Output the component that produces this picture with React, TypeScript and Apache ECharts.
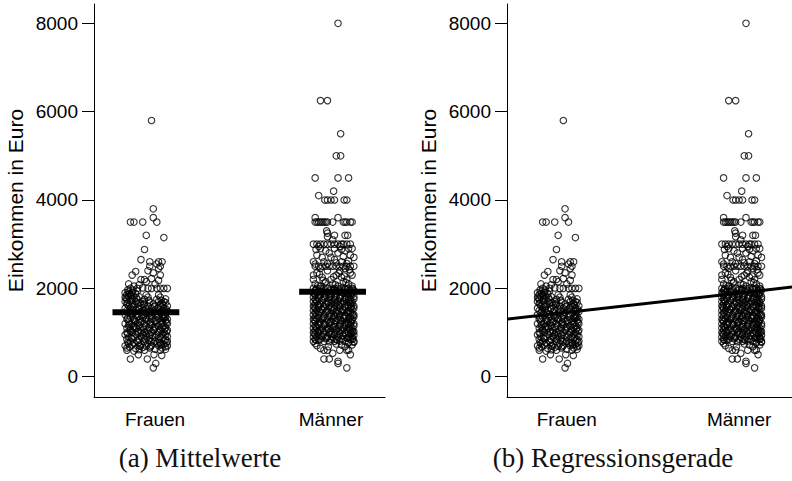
import React, { useEffect, useRef } from "react";
import * as echarts from "echarts";

// ---- data ----
const categories = ["Frauen", "Männer"];
const yTicks = [0, 2000, 4000, 6000, 8000];
const captions = ["(a) Mittelwerte", "(b) Regressionsgerade"];
const groupMeans = [1458, 1924];
const regressionAtGroups = [1455, 1895];

// [jitter offset from category, income in Euro]
const frauen: number[][] = [
  [-0.16,650],[-0.11,640],[-0.07,660],[-0.03,650],[0.00,620],[0.04,650],[0.06,680],
  [-0.17,700],[-0.13,720],[-0.09,700],[-0.05,690],[-0.02,710],[0.02,700],[0.07,700],
  [-0.15,750],[-0.12,760],[-0.08,740],[-0.04,750],[0.01,770],[0.03,750],[0.05,730],
  [-0.14,800],[-0.10,810],[-0.06,800],[-0.02,790],[0.00,800],[0.05,820],[0.07,800],
  [-0.16,850],[-0.13,860],[-0.09,840],[-0.06,850],[-0.03,870],[0.02,850],[0.06,840],
  [-0.15,900],[-0.12,900],[-0.08,920],[-0.05,900],[0.00,890],[0.03,900],[0.07,910],
  [-0.17,950],[-0.11,960],[-0.07,950],[-0.03,940],[0.01,950],[0.04,970],[0.06,950],
  [-0.16,1000],[-0.13,1000],[-0.10,990],[-0.06,1000],[-0.02,1010],[0.02,1000],[0.05,1000],[-0.08,1000],
  [-0.14,1050],[-0.12,1060],[-0.08,1040],[-0.04,1050],[-0.01,1050],[0.03,1070],[0.07,1050],
  [-0.16,1100],[-0.11,1100],[-0.07,1120],[-0.03,1100],[0.00,1090],[0.04,1100],[0.06,1110],[-0.14,1080],
  [-0.15,1150],[-0.12,1140],[-0.09,1160],[-0.05,1150],[-0.02,1170],[0.02,1150],[0.05,1150],
  [-0.17,1200],[-0.13,1200],[-0.10,1210],[-0.06,1200],[-0.03,1190],[0.01,1200],[0.04,1220],[0.07,1200],
  [-0.15,1250],[-0.11,1240],[-0.08,1250],[-0.04,1260],[0.00,1250],[0.03,1250],[0.06,1270],
  [-0.16,1300],[-0.12,1300],[-0.09,1290],[-0.05,1300],[-0.02,1310],[0.02,1300],[0.05,1330],[0.07,1300],
  [-0.14,1350],[-0.10,1360],[-0.07,1340],[-0.03,1350],[0.01,1370],[0.04,1350],[0.06,1350],
  [-0.17,1400],[-0.13,1400],[-0.10,1410],[-0.06,1400],[-0.02,1390],[0.02,1400],[0.05,1420],
  [-0.15,1450],[-0.12,1450],[-0.08,1460],[-0.05,1440],[-0.01,1450],[0.03,1450],[0.07,1470],
  [-0.16,1500],[-0.11,1500],[-0.07,1500],[-0.04,1510],[0.00,1500],[0.04,1500],[0.06,1490],[-0.13,1520],
  [-0.17,1550],[-0.14,1560],[-0.09,1550],[-0.05,1540],[-0.02,1550],[0.02,1570],[0.05,1550],
  [-0.15,1600],[-0.12,1600],[-0.08,1610],[-0.04,1600],[0.00,1600],[0.03,1620],[0.07,1600],
  [-0.16,1650],[-0.13,1640],[-0.10,1650],[-0.06,1660],[-0.01,1650],[0.04,1650],[0.06,1680],
  [-0.17,1700],[-0.14,1720],[-0.11,1700],[-0.07,1700],[-0.03,1690],[0.02,1700],[0.05,1700],
  [-0.16,1750],[-0.13,1760],[-0.10,1740],[-0.06,1750],[0.01,1750],[0.06,1760],
  [-0.17,1800],[-0.15,1820],[-0.12,1800],[-0.09,1810],[-0.04,1800],[0.03,1800],
  [-0.16,1860],[-0.14,1850],[-0.11,1880],[-0.05,1850],[0.02,1850],
  [-0.17,1900],[-0.15,1920],[-0.13,1900],[-0.10,1940],
  [-0.145,675],[-0.085,690],[-0.025,680],[0.035,720],
  [-0.155,780],[-0.095,775],[-0.035,820],[0.025,780],[0.065,770],
  [-0.135,880],[-0.075,875],[-0.015,930],[0.045,880],
  [-0.155,980],[-0.095,1025],[-0.035,980],[0.025,1030],[0.065,1020],
  [-0.125,1125],[-0.065,1080],[-0.005,1130],[0.055,1075],
  [-0.145,1180],[-0.085,1225],[-0.025,1230],[0.035,1180],[0.065,1230],
  [-0.155,1330],[-0.115,1280],[-0.055,1325],[0.005,1280],[0.045,1320],
  [-0.135,1430],[-0.075,1380],[-0.015,1420],[0.055,1380],
  [-0.145,1480],[-0.095,1530],[-0.035,1480],[0.015,1530],[0.065,1520],
  [-0.125,1580],[-0.065,1630],[-0.005,1580],[0.045,1620],
  [-0.155,1680],[-0.085,1680],[-0.035,1730],[0.035,1730],
  [-0.165,1780],[-0.135,1830],[-0.105,1780],[-0.145,1880],[-0.155,1960],[-0.125,1960],
  [-0.14,2000],[-0.10,2000],[-0.07,2010],[-0.04,2000],[-0.02,2000],[0.01,2000],[0.03,2000],[0.05,2000],[0.07,2000],
  [-0.12,2050],[-0.09,2080],[-0.15,2100],[0.00,2100],[-0.05,2150],[-0.08,2200],[-0.06,2200],[-0.02,2220],[0.02,2180],
  [-0.13,2300],[-0.11,2380],[-0.01,2350],[0.03,2300],[-0.04,2400],[0.02,2450],
  [-0.03,2500],[0.03,2500],[0.01,2550],
  [-0.03,2600],[0.02,2600],[0.04,2600],
  [-0.08,2650],[-0.06,2880],[-0.05,3200],[0.05,3150],
  [-0.14,3500],[-0.12,3500],[-0.07,3500],[0.01,3500],[-0.01,3600],[-0.01,3800],[-0.02,5800],
  [-0.14,400],[-0.095,500],[-0.044,400],[-0.006,500],[0.038,480],[0.004,300],[-0.01,200],
  [-0.16,600],[-0.12,580],[-0.06,600],[0.03,600],[0.06,620],[-0.09,610]
];

const maenner: number[][] = [
  [-0.10,800],[-0.07,820],[-0.04,800],[-0.01,790],[0.02,800],[0.05,810],[0.08,800],[0.10,780],[0.13,800],
  [-0.09,850],[-0.06,850],[-0.03,860],[0.00,850],[0.03,840],[0.06,850],[0.09,870],[0.11,850],[0.12,850],
  [-0.10,900],[-0.08,910],[-0.05,900],[-0.02,900],[0.01,890],[0.04,900],[0.07,920],[0.10,900],[0.12,900],
  [-0.09,950],[-0.07,940],[-0.04,950],[0.00,960],[0.02,950],[0.05,950],[0.08,970],[0.11,950],[0.13,940],
  [-0.10,1000],[-0.07,1000],[-0.04,1010],[-0.01,1000],[0.02,1000],[0.05,990],[0.08,1000],[0.10,1000],[0.13,1020],
  [-0.09,1050],[-0.06,1060],[-0.03,1050],[0.00,1040],[0.03,1050],[0.06,1050],[0.09,1070],[0.11,1050],[0.12,1040],
  [-0.10,1100],[-0.08,1100],[-0.05,1090],[-0.02,1100],[0.01,1120],[0.04,1100],[0.07,1100],[0.10,1110],[0.12,1100],
  [-0.09,1150],[-0.07,1160],[-0.04,1150],[0.00,1150],[0.02,1140],[0.05,1150],[0.08,1150],[0.11,1170],[0.13,1150],
  [-0.10,1200],[-0.07,1190],[-0.04,1200],[-0.01,1210],[0.02,1200],[0.05,1200],[0.08,1220],[0.10,1200],[0.13,1200],
  [-0.09,1250],[-0.06,1250],[-0.03,1240],[0.00,1250],[0.03,1260],[0.06,1250],[0.09,1250],[0.11,1240],[0.12,1270],
  [-0.10,1300],[-0.08,1310],[-0.05,1300],[-0.02,1290],[0.01,1300],[0.04,1300],[0.07,1320],[0.10,1300],[0.12,1300],
  [-0.09,1350],[-0.07,1340],[-0.04,1350],[0.00,1360],[0.02,1350],[0.05,1350],[0.08,1370],[0.11,1350],[0.13,1350],
  [-0.10,1400],[-0.07,1400],[-0.04,1410],[-0.01,1400],[0.02,1390],[0.05,1400],[0.08,1400],[0.10,1420],[0.13,1400],
  [-0.09,1450],[-0.06,1460],[-0.03,1450],[0.00,1440],[0.03,1450],[0.06,1470],[0.09,1450],[0.11,1450],[0.12,1430],
  [-0.10,1500],[-0.08,1500],[-0.05,1510],[-0.02,1500],[0.01,1500],[0.04,1490],[0.07,1500],[0.10,1500],[0.12,1520],
  [-0.09,1550],[-0.07,1560],[-0.04,1550],[0.00,1550],[0.02,1540],[0.05,1550],[0.08,1570],[0.11,1550],[0.13,1550],
  [-0.10,1600],[-0.07,1600],[-0.04,1590],[-0.01,1600],[0.02,1620],[0.05,1600],[0.08,1600],[0.10,1610],[0.13,1600],
  [-0.09,1650],[-0.06,1640],[-0.03,1650],[0.00,1660],[0.03,1650],[0.06,1650],[0.09,1680],[0.11,1650],[0.12,1650],
  [-0.10,1700],[-0.08,1700],[-0.05,1720],[-0.02,1700],[0.01,1690],[0.04,1700],[0.07,1700],[0.10,1730],[0.12,1700],
  [-0.09,1750],[-0.07,1760],[-0.04,1750],[0.00,1740],[0.02,1750],[0.05,1770],[0.08,1750],[0.11,1750],[0.13,1760],
  [-0.10,1800],[-0.07,1800],[-0.04,1820],[-0.01,1800],[0.02,1800],[0.05,1790],[0.08,1800],[0.10,1800],[0.13,1810],
  [-0.09,1850],[-0.06,1860],[-0.03,1850],[0.00,1850],[0.03,1840],[0.06,1850],[0.09,1870],[0.11,1850],[0.12,1850],
  [-0.10,1900],[-0.08,1900],[-0.05,1910],[-0.02,1900],[0.01,1900],[0.04,1920],[0.07,1900],[0.10,1890],[0.12,1900],
  [-0.09,1950],[-0.07,1940],[-0.04,1950],[0.00,1960],[0.02,1950],[0.05,1950],[0.08,1970],[0.11,1950],[0.13,1950],
  [-0.10,2000],[-0.08,2000],[-0.06,2000],[-0.04,2000],[-0.02,2000],[0.00,2000],[0.02,2000],[0.04,2000],[0.06,2000],[0.08,2000],[0.10,2000],[0.12,2000],
  [-0.085,825],[-0.025,875],[0.035,830],[0.095,880],[0.125,860],
  [-0.055,925],[0.005,975],[0.065,930],[0.115,985],[-0.095,970],
  [-0.075,1025],[-0.015,1075],[0.045,1030],[0.105,1080],[0.125,1010],
  [-0.085,1125],[-0.035,1180],[0.025,1130],[0.085,1175],[-0.065,1220],
  [-0.005,1230],[0.055,1280],[0.115,1225],[-0.095,1275],[-0.045,1325],
  [0.015,1380],[0.075,1330],[0.125,1385],[-0.085,1425],[-0.025,1480],
  [0.035,1430],[0.095,1475],[-0.055,1525],[0.005,1580],[0.065,1530],
  [0.115,1585],[-0.095,1575],[-0.075,1630],[-0.015,1680],[0.045,1625],
  [0.105,1690],[-0.085,1725],[-0.035,1780],[0.025,1730],[0.085,1775],
  [-0.065,1830],[-0.005,1880],[0.055,1825],[0.115,1885],[-0.095,1880],
  [-0.045,1930],[0.015,1980],[0.075,1935],[0.125,1975],[-0.085,1975],
  [-0.06,640],[-0.04,600],[-0.02,600],[-0.015,680],[0.05,600],[0.08,680],[0.09,600],[0.10,760],[0.12,720],
  [-0.04,400],[-0.01,400],[0.04,350],[0.04,300],[0.09,200],[0.11,500],[0.10,600],[0.01,530],
  [-0.09,750],[0.03,740],[0.13,780],[-0.08,700],[0.06,720],
  [-0.09,2100],[-0.06,2050],[-0.03,2150],[0.01,2100],[0.04,2050],[0.07,2150],[0.10,2100],[0.12,2050],
  [-0.10,2200],[-0.05,2250],[0.00,2200],[0.03,2300],[0.06,2250],[0.09,2200],[0.12,2300],
  [-0.08,2350],[-0.02,2400],[0.05,2400],[0.11,2350],[-0.10,2300],
  [-0.075,2060],[-0.035,2120],[0.025,2080],[0.085,2130],[-0.045,2180],[0.015,2260],[0.075,2280],
  [-0.065,2320],[0.045,2340],[0.105,2420],
  [-0.09,2500],[-0.07,2500],[-0.05,2500],[-0.03,2500],[-0.01,2500],[0.01,2500],[0.03,2500],
  [0.05,2500],[0.07,2500],[0.09,2500],[0.11,2500],[0.13,2500],[-0.06,2450],[0.08,2450],
  [-0.09,2550],[-0.02,2560],[0.03,2580],[0.09,2560],
  [-0.10,2600],[-0.04,2600],[0.02,2650],[0.06,2600],[0.10,2620],[0.13,2700],[-0.08,2750],
  [-0.05,2700],[0.00,2700],[0.07,2720],
  [-0.01,2800],[0.04,2800],[0.08,2850],[0.12,2900],[-0.06,2900],[-0.03,2850],[0.11,2750],
  [-0.085,2880],[0.02,2900],[0.06,2880],[0.10,2900],
  [-0.10,3000],[-0.08,3000],[-0.06,3000],[-0.04,3000],[-0.02,3000],[0.00,3000],[0.02,3000],
  [0.04,3000],[0.06,3000],[0.07,3000],[0.09,3000],[0.11,3000],[-0.07,2950],[0.05,2950],
  [-0.025,3300],[-0.02,3250],[0.02,3200],[-0.02,3170],[0.08,3200],[0.095,3200],[0.01,3100],
  [-0.09,3500],[-0.08,3500],[-0.07,3500],[-0.06,3500],[-0.05,3500],[-0.04,3500],[-0.03,3500],
  [-0.02,3500],[0.01,3500],[0.07,3500],[0.08,3500],[0.09,3500],[0.11,3500],[0.12,3500],
  [-0.09,3600],[0.04,3600],
  [-0.035,4000],[-0.02,4000],[0.00,4000],[0.02,4000],[0.075,4000],[0.09,4000],
  [-0.07,4100],[0.015,4200],[-0.09,4500],[0.04,4500],[0.10,4500],
  [0.03,5000],[0.055,5000],[0.055,5500],[-0.06,6250],[-0.02,6250],[0.04,8000]
];

// ---- layout / style constants ----
const FONT = "Liberation Sans, Arial, sans-serif";
const SERIF = "Liberation Serif, Times New Roman, serif";
const X_MIN = 0.653;
const X_MAX = 2.307;
const Y_MIN = -460;
const Y_MAX = 8437;
const PANEL_LEFT = [94, 507];
const MEAN_BAR_CENTER = [0.948, 2.009];
const MEAN_BAR_HALF = 0.19;

function buildOption() {
  const grid = PANEL_LEFT.map((l) => ({ left: l, top: 4, width: 291, height: 393 }));
  const xAxis = PANEL_LEFT.map((_, i) => ({
    type: "value",
    gridIndex: i,
    min: X_MIN,
    max: X_MAX,
    axisLine: { show: true, onZero: false, lineStyle: { color: "#000", width: 1 } },
    axisTick: { show: false },
    splitLine: { show: false },
    axisLabel: {
      customValues: [1, 2],
      formatter: (v: number) => categories[Math.round(v) - 1] ?? "",
      color: "#000",
      fontSize: 19,
      fontFamily: FONT,
      margin: 13,
    },
  }));
  const yAxis = PANEL_LEFT.map((_, i) => ({
    type: "value",
    gridIndex: i,
    min: Y_MIN,
    max: Y_MAX,
    axisLine: { show: true, onZero: false, lineStyle: { color: "#000", width: 1 } },
    axisTick: { show: true, customValues: yTicks, length: 12, lineStyle: { color: "#000", width: 1 } },
    axisLabel: {
      customValues: yTicks,
      formatter: (v: number) => String(Math.round(v)),
      color: "#000",
      fontSize: 19,
      fontFamily: FONT,
      margin: 16,
    },
    splitLine: { show: false },
    name: "Einkommen in Euro",
    nameLocation: "middle",
    nameRotate: 90,
    nameGap: 68,
    nameTextStyle: { fontSize: 21, color: "#000", fontFamily: FONT },
  }));

  const pointStyle = {
    symbol: "circle",
    symbolSize: 6.5,
    itemStyle: { color: "rgba(0,0,0,0)", borderColor: "#000", borderWidth: 1.1 },
    silent: true,
  };

  const series: any[] = [];
  for (let i = 0; i < 2; i++) {
    series.push({
      type: "scatter",
      xAxisIndex: i,
      yAxisIndex: i,
      data: frauen.map(([j, v]) => [1 + j, v]),
      ...pointStyle,
    });
    series.push({
      type: "scatter",
      xAxisIndex: i,
      yAxisIndex: i,
      data: maenner.map(([j, v]) => [2 + j, v]),
      ...pointStyle,
    });
  }
  groupMeans.forEach((m, g) => {
    series.push({
      type: "line",
      xAxisIndex: 0,
      yAxisIndex: 0,
      data: [
        [MEAN_BAR_CENTER[g] - MEAN_BAR_HALF, m],
        [MEAN_BAR_CENTER[g] + MEAN_BAR_HALF, m],
      ],
      symbol: "none",
      lineStyle: { color: "#000", width: 6, cap: "butt" },
      z: 5,
      silent: true,
    });
  });
  const slope = regressionAtGroups[1] - regressionAtGroups[0];
  const regAt = (x: number) => regressionAtGroups[0] + (x - 1) * slope;
  series.push({
    type: "line",
    xAxisIndex: 1,
    yAxisIndex: 1,
    data: [
      [X_MIN, regAt(X_MIN)],
      [X_MAX, regAt(X_MAX)],
    ],
    symbol: "none",
    lineStyle: { color: "#000", width: 3 },
    z: 5,
    silent: true,
  });

  const graphic = captions.map((t, i) => ({
    type: "text",
    x: [200, 613][i],
    y: 458,
    style: {
      text: t,
      fontSize: 27,
      fontFamily: SERIF,
      fill: "#111",
      align: "center",
      verticalAlign: "middle",
    },
  }));

  return {
    animation: false,
    backgroundColor: "#fff",
    grid,
    xAxis,
    yAxis,
    series,
    graphic,
  };
}

export default function App() {
  const ref = useRef<HTMLDivElement>(null);
  useEffect(() => {
    if (!ref.current) return;
    const chart = echarts.init(ref.current, undefined, { renderer: "svg" });
    chart.setOption(buildOption() as any);
    return () => chart.dispose();
  }, []);
  return (
    <div
      ref={ref}
      style={{ position: "fixed", left: 0, top: 0, width: 792, height: 481, background: "#fff" }}
    />
  );
}
